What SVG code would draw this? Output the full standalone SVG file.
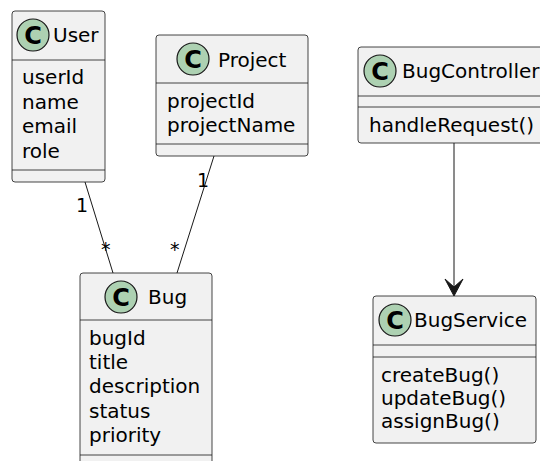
<svg xmlns="http://www.w3.org/2000/svg" width="540" height="461" viewBox="0 0 540 461">
<style>
.box{fill:#F1F1F1;stroke:#181818;stroke-width:0.8}
.sep{stroke:#181818;stroke-width:0.8;fill:none}
.circ{fill:#ADD1B2;stroke:#181818;stroke-width:1.2}
.c{font-family:"DejaVu Sans",sans-serif;font-size:24px;font-weight:bold;fill:#000;text-anchor:middle}
.t{font-family:"DejaVu Sans",sans-serif;font-size:20px;fill:#000}
.lbl{font-family:"DejaVu Sans",sans-serif;font-size:19px;fill:#000}
.edge{stroke:#181818;stroke-width:1;fill:none}
</style>
<rect width="540" height="461" fill="#FFFFFF"/>
<g id="User">
<rect class="box" x="12" y="11" width="93" height="171" rx="3"/>
<line class="sep" x1="12" y1="60" x2="105" y2="60"/>
<line class="sep" x1="12" y1="170" x2="105" y2="170"/>
<circle class="circ" cx="33" cy="35" r="16"/>
<text class="c" x="33" y="43.5">C</text>
<text class="t" x="53" y="42">User</text>
<text class="t" x="22" y="84">userId</text>
<text class="t" x="22" y="109">name</text>
<text class="t" x="22" y="133">email</text>
<text class="t" x="22" y="158">role</text>
</g>
<g id="Project">
<rect class="box" x="156" y="35" width="152" height="121" rx="3"/>
<line class="sep" x1="156" y1="83" x2="308" y2="83"/>
<line class="sep" x1="156" y1="144" x2="308" y2="144"/>
<circle class="circ" cx="193" cy="59" r="16"/>
<text class="c" x="193" y="67.5">C</text>
<text class="t" x="218" y="67">Project</text>
<text class="t" x="167" y="108">projectId</text>
<text class="t" x="167" y="132">projectName</text>
</g>
<g id="BugController">
<rect class="box" x="358" y="47" width="190" height="96" rx="3"/>
<line class="sep" x1="358" y1="96" x2="548" y2="96"/>
<line class="sep" x1="358" y1="107" x2="548" y2="107"/>
<circle class="circ" cx="380" cy="71" r="16"/>
<text class="c" x="380" y="79.5">C</text>
<text class="t" x="402" y="78">BugController</text>
<text class="t" x="369" y="132">handleRequest()</text>
</g>
<g id="Bug">
<rect class="box" x="80" y="273" width="132" height="200" rx="3"/>
<line class="sep" x1="80" y1="320" x2="212" y2="320"/>
<line class="sep" x1="80" y1="455" x2="212" y2="455"/>
<circle class="circ" cx="121" cy="297" r="16"/>
<text class="c" x="121" y="305.5">C</text>
<text class="t" x="148" y="304">Bug</text>
<text class="t" x="89" y="345">bugId</text>
<text class="t" x="89" y="369">title</text>
<text class="t" x="89" y="393">description</text>
<text class="t" x="89" y="418">status</text>
<text class="t" x="89" y="442">priority</text>
</g>
<g id="BugService">
<rect class="box" x="373" y="296" width="163" height="147" rx="3"/>
<line class="sep" x1="373" y1="345" x2="536" y2="345"/>
<line class="sep" x1="373" y1="357" x2="536" y2="357"/>
<circle class="circ" cx="395" cy="320" r="16"/>
<text class="c" x="395" y="328.5">C</text>
<text class="t" x="414" y="327">BugService</text>
<text class="t" x="381" y="382">createBug()</text>
<text class="t" x="381" y="405">updateBug()</text>
<text class="t" x="381" y="428">assignBug()</text>
</g>
<g id="connectors">
<line class="edge" x1="85" y1="182" x2="113" y2="273"/>
<text class="lbl" x="76" y="212">1</text>
<text class="lbl" x="101" y="256">*</text>
<line class="edge" x1="214" y1="156" x2="177" y2="273"/>
<text class="lbl" x="197" y="187">1</text>
<text class="lbl" x="170" y="256">*</text>
<line class="edge" x1="454" y1="143" x2="454" y2="294"/>
<polygon points="454,296 445,279 454,287 463,279" fill="#181818" stroke="#181818" stroke-width="1"/>
</g>
</svg>
